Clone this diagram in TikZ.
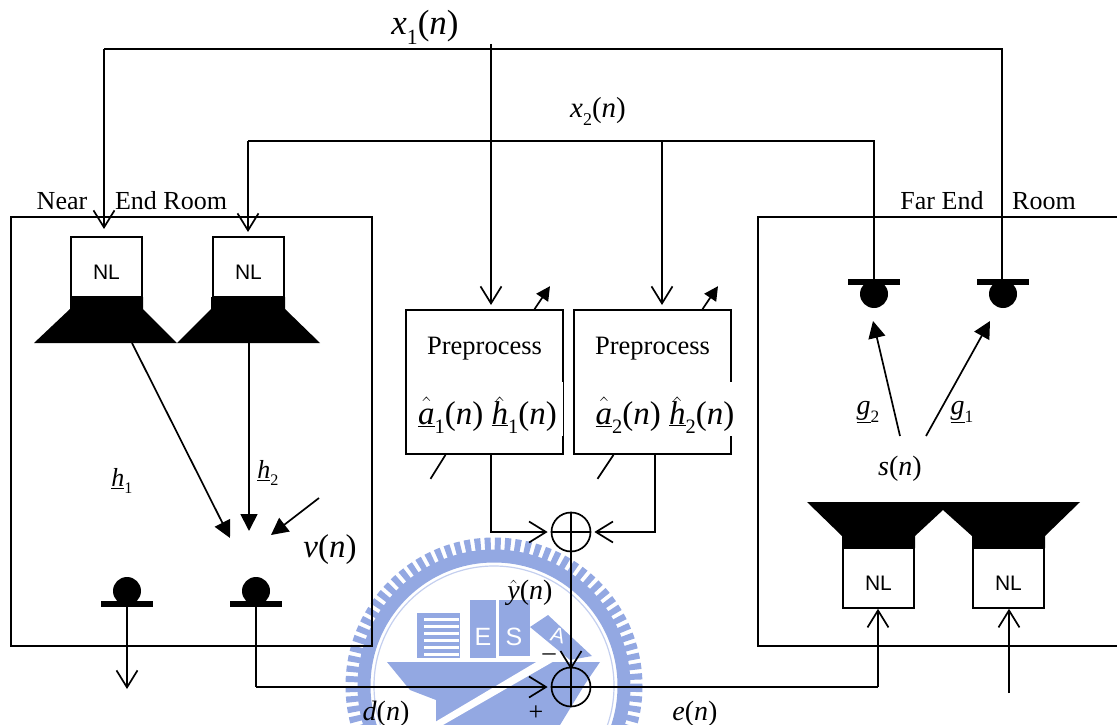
\documentclass[tikz,border=0pt]{standalone}
\usepackage{fontspec}
\setmainfont{Liberation Serif}
\newfontfamily\nlfont{Liberation Sans}
\usetikzlibrary{arrows.meta,calc}
\definecolor{logoblue}{HTML}{93A8E2}
\newcommand\fs[1]{\fontsize{#1}{#1}\selectfont}
\newcommand\subn[1]{\raisebox{-.28em}{\scalebox{.62}{#1}}}
\newcommand\ulit[1]{$\underline{\hbox{\itshape #1}}$}
\newsavebox\hatbox
\newcommand\hatul[1]{\sbox\hatbox{$\underline{\hbox{\itshape #1}}$}\rlap{\hbox to\wd\hatbox{\hss\raisebox{6pt}{\scalebox{1.25}{$\hat{\phantom{a}}$}}\hss}}\usebox\hatbox}
\tikzset{
  wire/.style={line width=1.7pt},
  openarrow/.style={wire,-{Straight Barb[length=17pt,width=21pt,line width=1.7pt]}},
  solidarrow/.style={wire,-{Triangle[length=17pt,width=17pt]}},
  nlbox/.style={draw,line width=1.6pt,fill=white,minimum width=71pt,minimum height=60pt,inner sep=0pt},
  nltext/.style={inner sep=0pt,font=\nlfont\fs{21}},
  prebox/.style={draw,line width=1.7pt,minimum width=157pt,minimum height=144pt,inner sep=0pt},
  patch/.style={fill=white,inner sep=0pt,minimum height=54pt},
  esttext/.style={inner sep=0pt,anchor=base,font=\fs{33}},
  adder/.style={draw,circle,line width=1.7pt,minimum size=39pt,inner sep=0pt},
  micball/.style={circle,fill=black,minimum size=28pt,inner sep=0pt},
  micbar/.style={fill=black,minimum width=52pt,minimum height=6pt,inner sep=0pt},
  txt/.style={inner sep=0pt,font=\fs{26}},
  mathlbl/.style={inner sep=0pt,font=\fs{28}},
  cone/.style={fill=black,draw=none},
}
\begin{document}
\begin{tikzpicture}[x=1pt,y=-1pt]
\useasboundingbox (0,0) rectangle (1117,725);
% watermark
\begin{scope}
\clip (0,0) rectangle (1117,725);
\draw[logoblue,line width=13pt,dash pattern=on 6pt off 4pt] (494,686) circle (142);
\draw[logoblue,line width=13pt] (494,686) circle (130);
\draw[logoblue!55,line width=1.2pt] (494,686) circle (120);
\fill[logoblue] (417,613) rectangle (460,658);
\foreach \yy in {618,625,632,639,646,653}{\fill[white] (424,\yy) rectangle (459,\yy+3);}
\fill[logoblue] (470,600) rectangle (496,658);
\fill[logoblue] (499,600) rectangle (530,656);
\fill[logoblue] (548,615) -- (592,656) -- (570,660) -- (530,627) -- cycle;
\fill[logoblue] (387,662) -- (600,662) -- (585,684) -- (560,725) -- (436,725) -- (436,700) -- (410,690) -- cycle;
\fill[white] (548,655) -- (556,660) -- (443,725) -- (430,725) -- cycle;
\node[white,inner sep=0pt,font=\nlfont\fs{25}] (logoE) at (483,637) {E};
\node[white,inner sep=0pt,font=\nlfont\fs{25}] (logoS) at (514,637) {S};
\node[white,inner sep=0pt,font=\nlfont\fs{21},rotate=-15] (logoA) at (558,635) {A};
\end{scope}
% rooms
\draw[wire] (11,217) rectangle (372,646);
\draw[wire] (1117,217) -- (758,217) -- (758,646) -- (1117,646);
% speakers near
\fill[cone] (70,297) -- (143,297) -- (143,309) -- (177,343) -- (34,343) -- (70,309) -- cycle;
\fill[cone] (211,297) -- (285,297) -- (285,309) -- (320,343) -- (177,343) -- (211,309) -- cycle;
% speakers far
\fill[cone] (842,548) -- (915,548) -- (915,536) -- (943,510) -- (972,536) -- (972,548) -- (1045,548) -- (1045,536) -- (1080,502) -- (807,502) -- (842,536) -- cycle;
\node[nlbox] (nlA) at (106.5,267) {};
\node[nlbox] (nlB) at (248.5,267) {};
\node[nlbox] (nlC) at (878.5,578) {};
\node[nlbox] (nlD) at (1008.5,578) {};
\node[nltext] (nlAt) at (106.5,272) {NL};
\node[nltext] (nlBt) at (248.5,272) {NL};
\node[nltext] (nlCt) at (878.5,583) {NL};
\node[nltext] (nlDt) at (1008.5,583) {NL};
% boxes
\node[prebox] (preA) at (484.5,382) {};
\node[prebox] (preB) at (652.5,382) {};
\node[inner sep=0pt,font=\fs{26.5}] (preAt) at (484.5,349) {Preprocess};
\node[inner sep=0pt,font=\fs{26.5}] (preBt) at (652.5,349) {Preprocess};
\node[patch,minimum width=151pt] (patchA) at (487.5,409) {};
\node[patch,minimum width=142pt] (patchB) at (665,409) {};
\node[esttext] (estA) at (487.5,424) {\hatul{a}\subn{1}(\textit{n}) \hatul{h}\subn{1}(\textit{n})};
\node[esttext] (estB) at (665,424) {\hatul{a}\subn{2}(\textit{n}) \hatul{h}\subn{2}(\textit{n})};
% adders
\node[adder] (addT) at (571,532) {};
\node[adder] (addB) at (571,687) {};
\foreach \a in {addT,addB}{
  \draw[wire] (\a.north) -- (\a.south);
  \draw[wire] (\a.west) -- (\a.east);
}
% microphones
\node[micball] (micA) at (127,591) {};
\node[micball] (micB) at (256,591) {};
\node[micbar] (barA) at (127,604) {};
\node[micbar] (barB) at (256,604) {};
\node[micball] (micC) at (874,294) {};
\node[micball] (micD) at (1003,294) {};
\node[micbar] (barC) at (874,282) {};
\node[micbar] (barD) at (1003,282) {};
% named ends
\coordinate (xOneL) at (104,49);
\coordinate (xOneR) at (1002,49);
\coordinate (xOneT) at (491,44);
\coordinate (xTwoL) at (248,141);
\coordinate (xTwoR) at (874,141);
\coordinate (xTwoM) at (662,141);
\coordinate (tipA) at (104,229);
\coordinate (tipB) at (248,232);
\coordinate (tipPA) at (491,305);
\coordinate (tipPB) at (662,305);
\coordinate (spkA) at (132,343);
\coordinate (spkB) at (249,343);
\coordinate (tipHA) at (230,538);
\coordinate (tipHB) at (249,531);
\coordinate (vS) at (319,498);
\coordinate (vT) at (271,535);
\coordinate (outA) at (127,689);
\coordinate (cornerD) at (256,687);
\coordinate (cornerE) at (878,687);
\coordinate (inD) at (1009,693);
\coordinate (sA) at (900,436);
\coordinate (sB) at (926,436);
\coordinate (gA) at (873,321);
\coordinate (gB) at (990,321);
% connectors
\draw[openarrow] (xOneL) -- (tipA);
\draw[wire] (xOneL) -- (xOneR) -- (barD.north -| xOneR);
\draw[openarrow] (xOneT) -- (tipPA);
\draw[openarrow] (xTwoL) -- (tipB);
\draw[wire] (xTwoL) -- (xTwoR) -- (barC.north);
\draw[openarrow] (xTwoM) -- (tipPB);
\draw[solidarrow] (spkA) -- (tipHA);
\draw[solidarrow] (spkB) -- (tipHB);
\draw[solidarrow] (vS) -- (vT);
\draw[openarrow] (barA.south) -- (outA);
\draw[wire] (barB.south) -- (cornerD);
\draw[openarrow] (cornerD) -- ([xshift=-3pt]addB.west);
\draw[wire] (addB.east) -- (cornerE);
\draw[openarrow] (cornerE) -- (nlC.south -| cornerE);
\draw[openarrow] (inD) -- (nlD.south -| inD);
\draw[openarrow] (preA.south -| tipPA) |- ([xshift=-3pt]addT.west);
\draw[openarrow] (preB.south -| 655,0) |- ([xshift=3pt]addT.east);
\draw[openarrow] (addT.south) -- ([yshift=-3pt]addB.north);
\draw[wire] ([xshift=-39pt]preA.south) -- ++(-15,24);
\draw[wire] ([xshift=-39pt]preB.south) -- ++(-16,24);
\draw[wire,-{Triangle[length=14pt,width=14pt]}] ([xshift=50pt]preA.north) -- ++(15.5,-23);
\draw[wire,-{Triangle[length=14pt,width=14pt]}] ([xshift=50pt]preB.north) -- ++(15.5,-23);
\draw[solidarrow] (sA) -- (gA);
\draw[solidarrow] (sB) -- (gB);
% labels
\node[inner sep=0pt,font=\fs{35}] (lxa) at (425,27) {\textit{x}\subn{1}(\textit{n})};
\node[inner sep=0pt,font=\fs{29}] (lxb) at (598,111) {\textit{x}\subn{2}(\textit{n})};
\node[txt] (lnear) at (62,201) {Near};
\node[txt] (lend) at (171,201) {End Room};
\node[txt] (lfar) at (942,201) {Far End};
\node[txt] (lroom) at (1044,201) {Room};
\node[inner sep=0pt,font=\fs{26}] (lha) at (122,481) {\ulit{h}\subn{1}};
\node[inner sep=0pt,font=\fs{26}] (lhb) at (268,473) {\ulit{h}\subn{2}};
\node[inner sep=0pt,font=\fs{33}] (lv) at (330,550) {\textit{v}(\textit{n})};
\node[mathlbl] (ly) at (530,593) {$\hat{\hbox{\itshape y}}$(\textit{n})};
\node[mathlbl] (ld) at (386,714) {\textit{d}(\textit{n})};
\node[mathlbl] (le) at (695,714) {\textit{e}(\textit{n})};
\node[mathlbl] (ls) at (900,469) {\textit{s}(\textit{n})};
\node[inner sep=0pt,font=\fs{28}] (lgb) at (868,412) {\ulit{g}\subn{2}};
\node[inner sep=0pt,font=\fs{28}] (lga) at (962,412) {\ulit{g}\subn{1}};
\node[inner sep=0pt,font=\fs{26}] (lplus) at (536,713) {+};
\node[inner sep=0pt,font=\fs{26}] (lminus) at (549,657) {–};
\end{tikzpicture}
\end{document}
